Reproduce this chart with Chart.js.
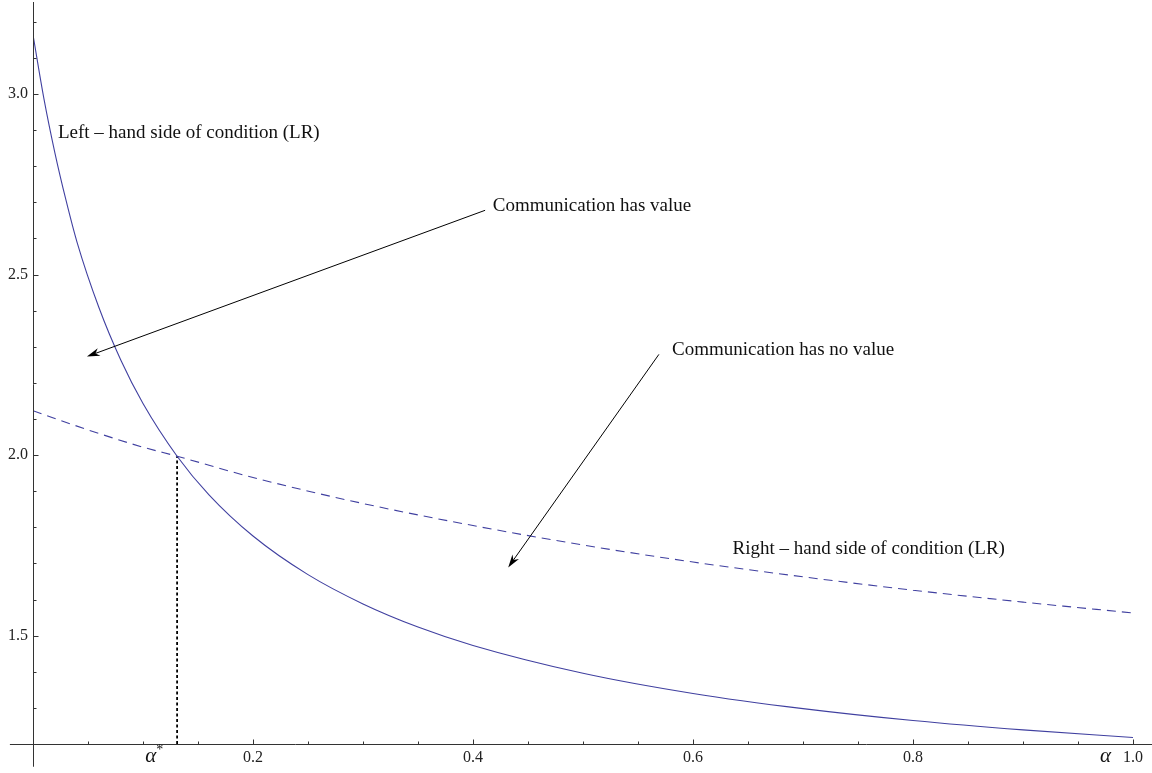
<!DOCTYPE html>
<html>
<head>
<meta charset="utf-8">
<script src="https://cdn.jsdelivr.net/npm/chart.js@4.4.0/dist/chart.umd.min.js"></script>
<style>
  html, body { margin: 0; padding: 0; background: #fff; }
  #wrap { width: 1152px; height: 773px; position: relative; }
</style>
</head>
<body>
<div id="wrap"><canvas id="grafico"></canvas></div>
<script>
// values
const alphaLeft = [0, 0.01, 0.02, 0.03, 0.04, 0.06, 0.08, 0.10, 0.131, 0.16, 0.20, 0.25, 0.30, 0.35, 0.40, 0.50, 0.60, 0.70, 0.80, 0.90, 1.00];
const leftSide  = [3.164, 2.986, 2.836, 2.706, 2.590, 2.408, 2.262, 2.143, 1.997, 1.890, 1.776, 1.669, 1.588, 1.524, 1.473, 1.396, 1.340, 1.298, 1.265, 1.239, 1.218];

const alphaRight = [0, 0.05, 0.10, 0.131, 0.20, 0.30, 0.40, 0.50, 0.60, 0.70, 0.80, 0.90, 1.00];
const rightSide  = [2.123, 2.070, 2.022, 1.997, 1.938, 1.866, 1.805, 1.751, 1.704, 1.663, 1.626, 1.593, 1.563];

const alphaStar = 0.131;
const crossValue = 1.997;
const xTickLabels = ["0.2", "0.4", "0.6", "0.8", "1.0"];
const yTickLabels = ["1.5", "2.0", "2.5", "3.0"];

// annotations, in data coordinates
const notes = [
  { text: "Left \u2013 hand side of condition (LR)", x: 0.0227, y: 2.891 },
  { text: "Communication has value", x: 0.418, y: 2.691 },
  { text: "Communication has no value", x: 0.581, y: 2.290 },
  { text: "Right \u2013 hand side of condition (LR)", x: 0.636, y: 1.740 }
];
const arrows = [
  { from: [0.411, 2.678], to: [0.049, 2.273] },
  { from: [0.569, 2.279], to: [0.432, 1.689] }
];
const alphaMarks = [
  { text: "\u03b1", sup: "*", x: 0.107 },
  { text: "\u03b1", sup: "", x: 0.975 }
];

const serif = "'Liberation Serif', 'Times New Roman', serif";
const curveColor = "rgb(64,64,160)";

const eixos = {
  id: "eixos",
  afterDraw(chart) {
    const { ctx, scales: { x, y } } = chart;
    const x0 = Math.round(x.getPixelForValue(0)) + 0.5;
    const yb = Math.round(y.getPixelForValue(1.2)) + 0.5;
    ctx.save();

    // axis lines
    ctx.strokeStyle = "#333";
    ctx.lineWidth = 1;
    ctx.beginPath();
    ctx.moveTo(x.getPixelForValue(-0.021), yb);
    ctx.lineTo(chart.width, yb);
    ctx.moveTo(x0, 2);
    ctx.lineTo(x0, y.getPixelForValue(1.137));
    ctx.stroke();

    // inward ticks
    ctx.beginPath();
    x.ticks.forEach(t => {
      const k = Math.round(t.value * 100);
      if (k <= 0) return;
      const px = Math.round(x.getPixelForValue(t.value)) + 0.5;
      const len = k % 20 === 0 ? 5 : 3;
      ctx.moveTo(px, yb);
      ctx.lineTo(px, yb - len);
    });
    y.ticks.forEach(t => {
      const k = Math.round(t.value * 10);
      if (k <= 12) return;
      const py = Math.round(y.getPixelForValue(t.value)) + 0.5;
      const len = k % 5 === 0 ? 5 : 3;
      ctx.moveTo(x0, py);
      ctx.lineTo(x0 + len, py);
    });
    ctx.stroke();

    // alpha labels on the x axis
    ctx.fillStyle = "#111";
    ctx.textBaseline = "middle";
    alphaMarks.forEach(m => {
      const px = x.getPixelForValue(m.x);
      ctx.font = "italic 21px " + serif;
      ctx.textAlign = "center";
      ctx.fillText(m.text, px, yb + 12);
      if (m.sup) {
        const w = ctx.measureText(m.text).width;
        ctx.font = "14px " + serif;
        ctx.textAlign = "left";
        ctx.fillText(m.sup, px + w / 2, yb + 6);
      }
    });

    // arrows
    ctx.strokeStyle = "#000";
    ctx.fillStyle = "#000";
    arrows.forEach(a => {
      const sx = x.getPixelForValue(a.from[0]), sy = y.getPixelForValue(a.from[1]);
      const ex = x.getPixelForValue(a.to[0]), ey = y.getPixelForValue(a.to[1]);
      const ang = Math.atan2(ey - sy, ex - sx);
      const c = Math.cos(ang), s = Math.sin(ang);
      const len = 13, w = 4;
      ctx.beginPath();
      ctx.moveTo(sx, sy);
      ctx.lineTo(ex - c * len * 0.7, ey - s * len * 0.7);
      ctx.stroke();
      ctx.beginPath();
      ctx.moveTo(ex, ey);
      ctx.lineTo(ex - c * len + s * w, ey - s * len - c * w);
      ctx.lineTo(ex - c * len * 0.7, ey - s * len * 0.7);
      ctx.lineTo(ex - c * len - s * w, ey - s * len + c * w);
      ctx.closePath();
      ctx.fill();
    });

    // text notes
    ctx.font = "19px " + serif;
    ctx.fillStyle = "#111";
    ctx.textAlign = "left";
    ctx.textBaseline = "middle";
    notes.forEach(n => ctx.fillText(n.text, x.getPixelForValue(n.x), y.getPixelForValue(n.y)));
    ctx.restore();
  }
};

new Chart(document.getElementById("grafico"), {
  type: "line",
  data: {
    datasets: [
      {
        label: "Left-hand side",
        data: alphaLeft.map((a, i) => ({ x: a, y: leftSide[i] })),
        borderColor: curveColor,
        borderWidth: 1.1,
        pointRadius: 0,
        cubicInterpolationMode: "monotone"
      },
      {
        label: "Right-hand side",
        data: alphaRight.map((a, i) => ({ x: a, y: rightSide[i] })),
        borderColor: curveColor,
        borderWidth: 1.1,
        borderDash: [9, 6],
        pointRadius: 0,
        cubicInterpolationMode: "monotone"
      },
      {
        label: "alpha*",
        data: [{ x: alphaStar, y: 1.2 }, { x: alphaStar, y: crossValue }],
        borderColor: "#000",
        borderWidth: 1.8,
        borderDash: [3, 2.5],
        pointRadius: 0
      }
    ]
  },
  options: {
    responsive: true,
    maintainAspectRatio: false,
    animation: false,
    layout: { padding: { top: 4, right: 19, left: 0, bottom: 0 } },
    plugins: { legend: { display: false }, tooltip: { enabled: false } },
    scales: {
      x: {
        type: "linear",
        min: 0,
        max: 1,
        grid: { display: false, drawTicks: false },
        border: { display: false },
        afterFit: s => { s.height = 29; },
        ticks: {
          stepSize: 0.05,
          autoSkip: false,
          maxRotation: 0,
          padding: 4,
          color: "#222",
          font: { family: serif, size: 16 },
          callback: v => {
            const s = Number(v).toFixed(1);
            return Math.round(v * 100) % 20 === 0 && xTickLabels.includes(s) ? s : "";
          }
        }
      },
      y: {
        type: "linear",
        min: 1.2,
        max: 3.22,
        grid: { display: false, drawTicks: false },
        border: { display: false },
        afterFit: s => { s.width = 33; },
        ticks: {
          stepSize: 0.1,
          includeBounds: false,
          autoSkip: false,
          padding: 5,
          color: "#222",
          font: { family: serif, size: 16 },
          callback: v => {
            const s = Number(v).toFixed(1);
            return Math.round(v * 10) % 5 === 0 && yTickLabels.includes(s) ? s : "";
          }
        }
      }
    }
  },
  plugins: [eixos]
});
</script>
</body>
</html>
